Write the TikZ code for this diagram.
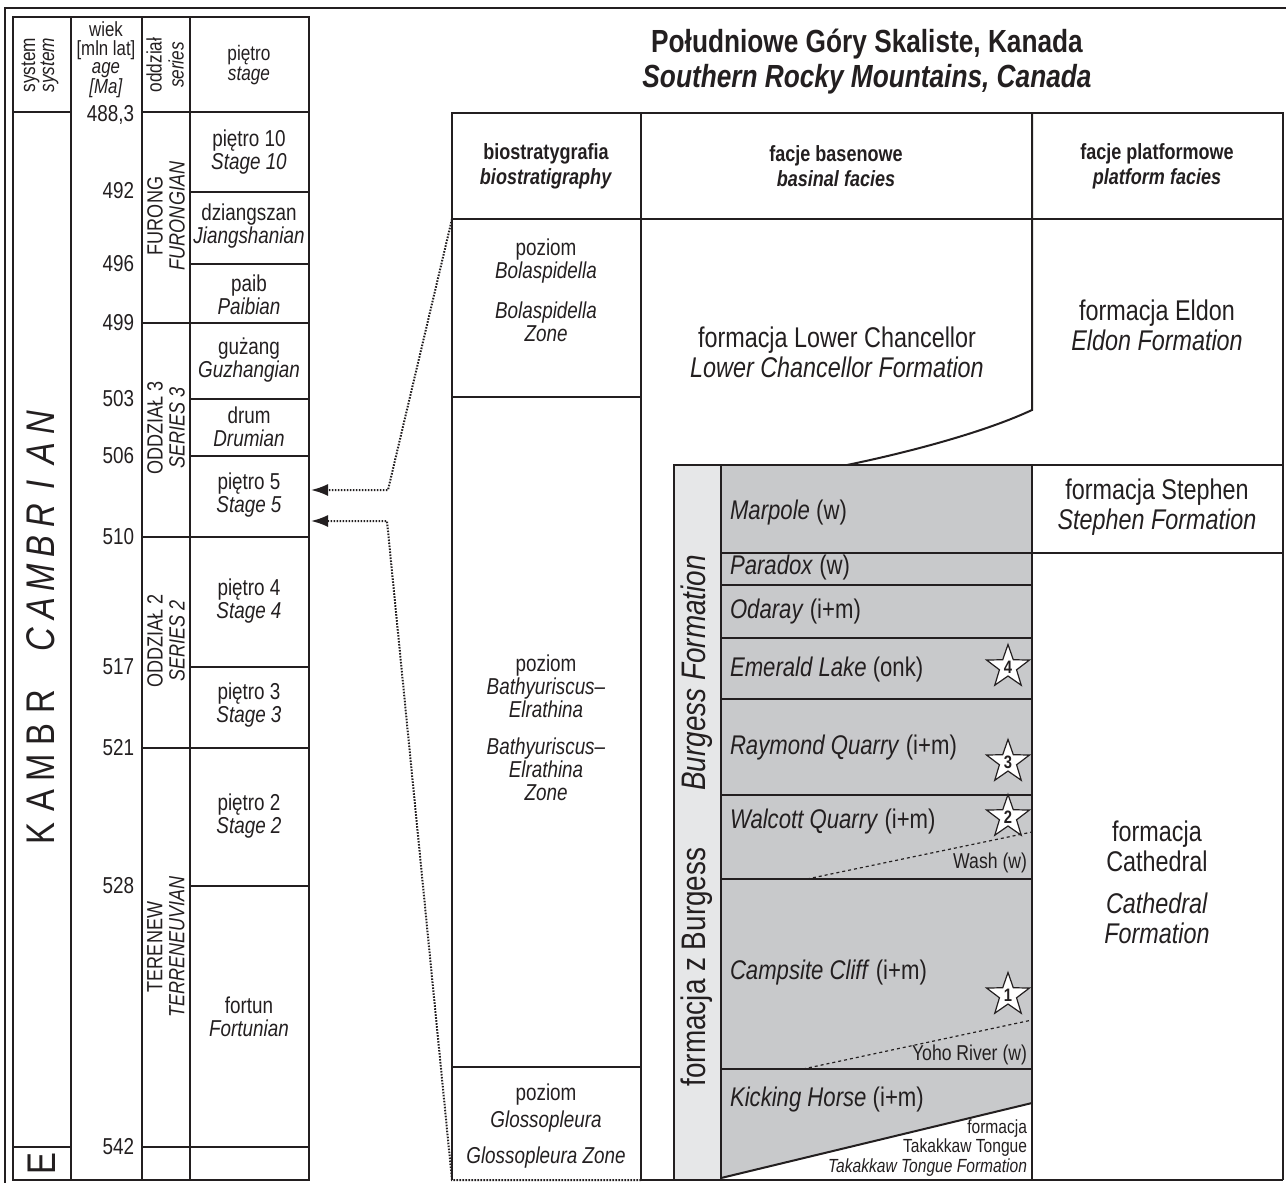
\documentclass[tikz,border=0pt]{standalone}
\usepackage{fontspec}
\setmainfont{Liberation Sans}[FakeStretch=0.82]
\usetikzlibrary{arrows.meta,shapes.geometric}
\definecolor{ink}{HTML}{231F20}
\definecolor{graybg}{HTML}{C8C9CB}
\definecolor{lightbg}{HTML}{E6E7E8}
\newcommand{\lbox}[2]{\makebox[#1pt]{#2}}
\begin{document}
\begin{tikzpicture}[x=1pt,y=-1pt,
  every node/.style={inner sep=0pt, outer sep=0pt, text=ink, align=center},
  tline/.style={draw=ink, line width=1.6pt},
  rline/.style={draw=ink, line width=2pt},
  gline/.style={draw=ink, line width=1.3pt},
  conn/.style={draw=ink, line width=2pt, dash pattern=on 1.6pt off 1.4pt, -{Latex[length=17pt,width=12pt]}},
  wdash/.style={draw=ink, line width=1.2pt, dash pattern=on 3pt off 3pt},
  body/.style={font=\fontsize{23}{23}\selectfont},
  form/.style={font=\fontsize{28.5}{30}\selectfont},
  layer/.style={font=\fontsize{27}{30}\selectfont, anchor=west},
  hdr/.style={font=\fontsize{22}{25}\selectfont\bfseries},
  serlab/.style={rotate=90, font=\fontsize{22}{22}\selectfont},
  agelab/.style={anchor=east, font=\fontsize{23}{23}\selectfont},
  starnode/.style={star, star points=5, star point ratio=2.5, minimum size=45pt, draw=ink, fill=white, line width=1.2pt, font=\fontsize{18}{18}\selectfont\bfseries},
]
\useasboundingbox (0,0) rectangle (1286,1183);
% page frame
\draw[ink, line width=1.3pt] (5,1183) -- (5,8) -- (1286,8);

% ---------- left chronostratigraphic table ----------
\draw[tline] (13,17) rectangle (309,1180);
\foreach \x in {71,142,190} \draw[tline] (\x,17) -- (\x,1180);
\draw[tline] (13,112) -- (71,112);
\draw[tline] (142,112) -- (309,112);
\foreach \y in {323,537,748} \draw[tline] (142,\y) -- (309,\y);
\draw[tline] (13,1147) -- (71,1147);
\draw[tline] (142,1147) -- (309,1147);
\foreach \y in {192,264,399,456,667,886} \draw[tline] (190,\y) -- (309,\y);

\node[rotate=90, font=\fontsize{21}{19}\selectfont] (hsys) at (40,65) {system\\\textit{system}};
\node[font=\fontsize{20.5}{18.5}\selectfont] (hage) at (106,60) {wiek\\{[mln lat]}\\\textit{age}\\\textit{[Ma]}};
\node[rotate=90, font=\fontsize{21}{22}\selectfont] (hser) at (165,65) {oddział\\\textit{series}};
\node[font=\fontsize{21}{20}\selectfont] (hstg) at (249,65) {piętro\\\textit{stage}};

\node[agelab] (a0) at (134,115) {488,3};
\node[agelab] (a1) at (134,191) {492};
\node[agelab] (a2) at (134,264) {496};
\node[agelab] (a3) at (134,323) {499};
\node[agelab] (a4) at (134,399) {503};
\node[agelab] (a5) at (134,456) {506};
\node[agelab] (a6) at (134,537) {510};
\node[agelab] (a7) at (134,667) {517};
\node[agelab] (a8) at (134,748) {521};
\node[agelab] (a9) at (134,886) {528};
\node[agelab] (a10) at (134,1147) {542};

\node[serlab] (sfur) at (166,216) {FURONG\\\textit{FURONGIAN}};
\node[serlab] (sser3) at (166,428) {ODDZIAŁ 3\\\textit{SERIES 3}};
\node[serlab] (sser2) at (166,641) {ODDZIAŁ 2\\\textit{SERIES 2}};
\node[serlab] (ster) at (166,947) {TERENEW\\\textit{TERRENEUVIAN}};

\node[body] (g10) at (249,152) {piętro 10\\\textit{Stage 10}};
\node[body] (gjia) at (249,226) {dziangszan\\\textit{Jiangshanian}};
\node[body] (gpai) at (249,295) {paib\\\textit{Paibian}};
\node[body] (gguz) at (249,360) {gużang\\\textit{Guzhangian}};
\node[body] (gdru) at (249,427) {drum\\\textit{Drumian}};
\node[body] (g5) at (249,495) {piętro 5\\\textit{Stage 5}};
\node[body] (g4) at (249,601) {piętro 4\\\textit{Stage 4}};
\node[body] (g3) at (249,705) {piętro 3\\\textit{Stage 3}};
\node[body] (g2) at (249,816) {piętro 2\\\textit{Stage 2}};
\node[body] (gfor) at (249,1017) {fortun\\\textit{Fortunian}};

\node[rotate=90, font=\fontsize{40}{40}\selectfont] (sysname) at (41,629)
  {\lbox{33}{K}\lbox{33}{A}\lbox{33}{M}\lbox{33}{B}\lbox{33}{R}\hspace{30pt}\itshape\lbox{31}{C}\lbox{31}{A}\lbox{31}{M}\lbox{31}{B}\lbox{31}{R}\lbox{31}{I}\lbox{31}{A}\lbox{31}{N}};
\node[rotate=90, font=\fontsize{40}{40}\selectfont] (ediac) at (42,1164) {E};

% ---------- title ----------
\node[font=\fontsize{32}{35}\selectfont\bfseries] (title) at (867,62)
  {Południowe Góry Skaliste, Kanada\\\textit{Southern Rocky Mountains, Canada}};

% ---------- right table: fills ----------
\fill[lightbg] (674,465) rectangle (721,1180);
\fill[graybg] (721,465) -- (1032,465) -- (1032,1103) -- (721,1179) -- cycle;

% ---------- right table: lines ----------
\draw[rline] (452,113) rectangle (1283,219);
\draw[rline] (641,113) -- (641,1180);
\draw[rline] (452,219) -- (452,1180);
\draw[rline] (1283,219) -- (1283,1180);
\draw[rline] (1032,113) -- (1032,410) .. controls (985,432) and (910,452) .. (847,465);
\draw[rline] (452,397) -- (641,397);
\draw[rline] (452,1067) -- (641,1067);
\draw[rline] (674,1180) -- (674,465) -- (1283,465);
\draw[rline] (1032,465) -- (1032,1180);
\draw[rline] (1032,553) -- (1283,553);
\draw[rline] (641,1180) -- (1283,1180);
\draw[gline] (721,465) -- (721,1180);
\foreach \y in {553,585,638,699,795,879,1069} \draw[gline] (721,\y) -- (1032,\y);
\draw[rline] (721,1178) -- (1032,1103);
\draw[wdash] (807,879) -- (1032,832);
\draw[wdash] (803,1069) -- (1032,1020);

% ---------- right table: texts ----------
\node[hdr] (hbio) at (546,166) {biostratygrafia\\\textit{biostratigraphy}};
\node[hdr] (hbas) at (836,166) {facje basenowe\\\textit{basinal facies}};
\node[hdr] (hpla) at (1157,166) {facje platformowe\\\textit{platform facies}};

\node[body] (bolPL) at (546,261) {poziom\\\textit{Bolaspidella}};
\node[body] (bolEN) at (546,322) {\textit{Bolaspidella}\\\textit{Zone}};
\node[body] (batPL) at (546,686) {poziom\\\textit{Bathyuriscus–}\\\textit{Elrathina}};
\node[body] (batEN) at (546,769) {\textit{Bathyuriscus–}\\\textit{Elrathina}\\\textit{Zone}};
\node[body, font=\fontsize{23}{27}\selectfont] (gloPL) at (546,1108) {poziom\\\textit{Glossopleura}};
\node[body] (gloEN) at (546,1158) {\textit{Glossopleura Zone}};

\node[form] (lch) at (837,352) {formacja Lower Chancellor\\\textit{Lower Chancellor Formation}};
\node[form] (eld) at (1157,325) {formacja Eldon\\\textit{Eldon Formation}};
\node[form] (ste) at (1157,507) {formacja Stephen\\\textit{Stephen Formation}};
\node[form] (catPL) at (1157,846) {formacja\\Cathedral};
\node[form] (catEN) at (1157,918) {\textit{Cathedral}\\\textit{Formation}};

\node[layer] (lmar) at (730,513) {\textit{Marpole} (w)};
\node[layer] (lpar) at (730,568) {\textit{Paradox} (w)};
\node[layer] (loda) at (730,612) {\textit{Odaray} (i+m)};
\node[layer] (lem) at (730,670) {\textit{Emerald Lake} (onk)};
\node[layer] (lray) at (730,748) {\textit{Raymond Quarry} (i+m)};
\node[layer] (lwal) at (730,822) {\textit{Walcott Quarry} (i+m)};
\node[layer] (lcam) at (730,973) {\textit{Campsite Cliff} (i+m)};
\node[layer] (lkic) at (730,1100) {\textit{Kicking Horse} (i+m)};

\node[anchor=east, font=\fontsize{21.5}{23}\selectfont] (wash) at (1027,863) {Wash (w)};
\node[anchor=east, font=\fontsize{21.5}{23}\selectfont] (yoho) at (1027,1055) {Yoho River (w)};
\node[anchor=east, align=right, font=\fontsize{19}{19.5}\selectfont] (tak) at (1027,1148)
  {formacja\\Takakkaw Tongue\\\textit{Takakkaw Tongue Formation}};

\node[rotate=90, font=\fontsize{34}{34}\selectfont] (burPL) at (697,967) {formacja z Burgess};
\node[rotate=90, font=\fontsize{34}{34}\selectfont] (burEN) at (697,673) {\textit{Burgess Formation}};

\node[starnode] (s4) at (1008,667) {4};
\node[starnode] (s3) at (1008,762) {3};
\node[starnode] (s2) at (1008,817) {2};
\node[starnode] (s1) at (1008,995) {1};

% ---------- connectors ----------
\coordinate (bolTL) at (452,219);
\coordinate (bend1) at (388,490);
\coordinate (tip1) at (311,490);
\coordinate (gloBR) at (641,1180);
\coordinate (gloBL) at (452,1180);
\coordinate (bend2) at (387,521);
\coordinate (tip2) at (311,521);
\draw[conn] (bolTL) -- (bend1) -- (tip1);
\draw[conn] (gloBR) -- (gloBL) -- (bend2) -- (tip2);
\end{tikzpicture}
\end{document}
